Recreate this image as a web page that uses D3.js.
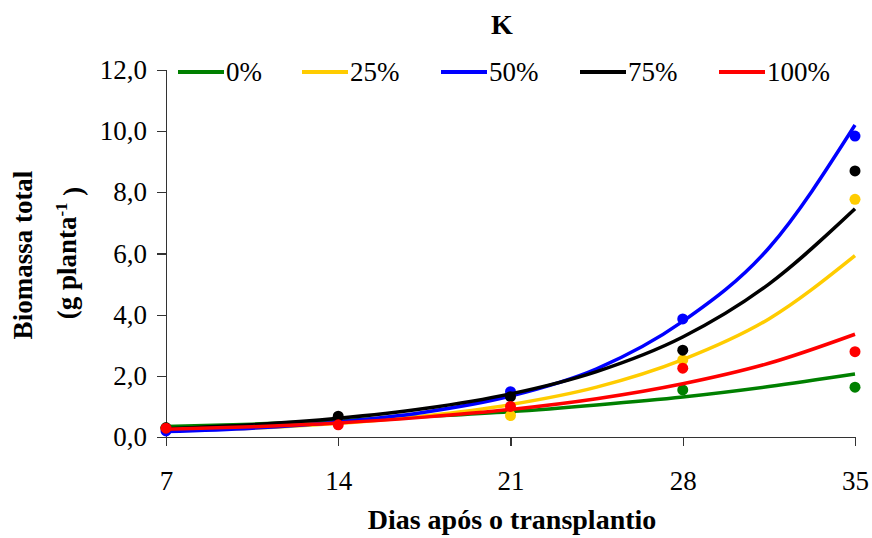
<!DOCTYPE html>
<html>
<head>
<meta charset="utf-8">
<script src="https://cdn.jsdelivr.net/npm/d3@7"></script>
<style>
  html, body { margin: 0; padding: 0; background: #fff; }
  svg { display: block; }
  text { font-family: "Liberation Serif", "Times New Roman", serif; fill: #000; }
</style>
</head>
<body>
<svg id="chart" width="872" height="538"></svg>
<script>
// ---- data ----
const seriesNames = ["0%", "25%", "50%", "75%", "100%"];
const seriesColors = ["#008000", "#FFCC00", "#0000FF", "#000000", "#FF0000"];

// fitted curves at these days
const curveDays = [7, 10.5, 14, 17.5, 21, 24.5, 28, 31.5, 35];
const curve0   = [0.34, 0.42, 0.53, 0.67, 0.83, 1.05, 1.31, 1.65, 2.06];
const curve25  = [0.22, 0.29, 0.45, 0.69, 1.06, 1.63, 2.53, 3.86, 5.93];
const curve50  = [0.18, 0.29, 0.49, 0.81, 1.34, 2.23, 3.78, 6.18, 10.2];
const curve75  = [0.27, 0.40, 0.61, 0.93, 1.41, 2.14, 3.27, 5.00, 7.46];
const curve100 = [0.25, 0.335, 0.46, 0.65, 0.90, 1.25, 1.74, 2.41, 3.36];

// observed points
const obsDays = [7, 14, 21, 28, 35];
const obs0   = [0.30, 0.55, 0.85, 1.54, 1.63];
const obs25  = [0.28, 0.50, 0.70, 2.52, 7.77];
const obs50  = [0.20, 0.50, 1.48, 3.86, 9.84];
const obs75  = [0.30, 0.68, 1.32, 2.84, 8.70];
const obs100 = [0.29, 0.40, 1.00, 2.25, 2.79];

const xTickValues = [7, 14, 21, 28, 35];
const xTickLabels = ["7", "14", "21", "28", "35"];
const yTickValues = [0, 2, 4, 6, 8, 10, 12];
const yTickLabels = ["0,0", "2,0", "4,0", "6,0", "8,0", "10,0", "12,0"];

const curves = [curve0, curve25, curve50, curve75, curve100];
const observations = [obs0, obs25, obs50, obs75, obs100];

// ---- layout ----
const svg = d3.select("#chart");
const x = d3.scaleLinear().domain([7, 35]).range([166, 855]);
const y = d3.scaleLinear().domain([0, 12]).range([437, 70]);

// axes
const xAxis = d3.axisBottom(x).tickValues(xTickValues)
  .tickFormat((d, i) => xTickLabels[i]).tickSizeOuter(0).tickSize(9).tickPadding(25);
const yAxis = d3.axisLeft(y).tickValues(yTickValues)
  .tickFormat((d, i) => yTickLabels[i]).tickSizeOuter(0).tickSize(9).tickPadding(10);

const gx = svg.append("g").attr("transform", "translate(0,437)").call(xAxis);
const gy = svg.append("g").attr("transform", "translate(166,0)").call(yAxis);
[gx, gy].forEach(g => {
  g.selectAll("path,line").attr("stroke", "#333").attr("stroke-width", 1.2).attr("shape-rendering", "crispEdges");
  g.selectAll("text").style("font-family", "Liberation Serif").style("font-size", "27px").attr("fill", "#000");
});

// series
const line = d3.line()
  .x((d, i) => x(curveDays[i]))
  .y(d => y(d))
  .curve(d3.curveMonotoneX);

curves.forEach((c, s) => {
  const g = svg.append("g");
  g.append("path")
    .datum(c)
    .attr("d", line)
    .attr("fill", "none")
    .attr("stroke", seriesColors[s])
    .attr("stroke-width", 3.5)
    .attr("stroke-linejoin", "round");
  g.selectAll("circle")
    .data(observations[s])
    .join("circle")
    .attr("cx", (d, i) => x(obsDays[i]))
    .attr("cy", d => y(d))
    .attr("r", 5.5)
    .attr("fill", seriesColors[s]);
});

// legend
const legendX = [178, 302, 441, 580, 719];
const legend = svg.append("g");
seriesNames.forEach((n, i) => {
  legend.append("line")
    .attr("x1", legendX[i]).attr("x2", legendX[i] + 46)
    .attr("y1", 72).attr("y2", 72)
    .attr("stroke", seriesColors[i]).attr("stroke-width", 4);
  legend.append("text")
    .attr("x", legendX[i] + 48).attr("y", 72)
    .attr("dy", "0.35em")
    .style("font-size", "27px")
    .text(n);
});

// title
svg.append("text").attr("x", 502).attr("y", 34)
  .attr("text-anchor", "middle").style("font-size", "28px").style("font-weight", "bold").text("K");

// x title
svg.append("text").attr("x", 512).attr("y", 529)
  .attr("text-anchor", "middle").style("font-size", "28px").style("font-weight", "bold")
  .text("Dias após o transplantio");

// y title
svg.append("text").attr("transform", "translate(32,255) rotate(-90)")
  .attr("text-anchor", "middle").style("font-size", "27px").style("font-weight", "bold")
  .text("Biomassa total");
const yt2 = svg.append("text").attr("transform", "translate(76,253) rotate(-90)")
  .attr("text-anchor", "middle").style("font-size", "27px").style("font-weight", "bold");
yt2.append("tspan").text("(g planta");
yt2.append("tspan").attr("dy", "-0.55em").style("font-size", "17px").text("-1");
yt2.append("tspan").attr("dy", "0.55em").text(" )");
</script>
</body>
</html>
